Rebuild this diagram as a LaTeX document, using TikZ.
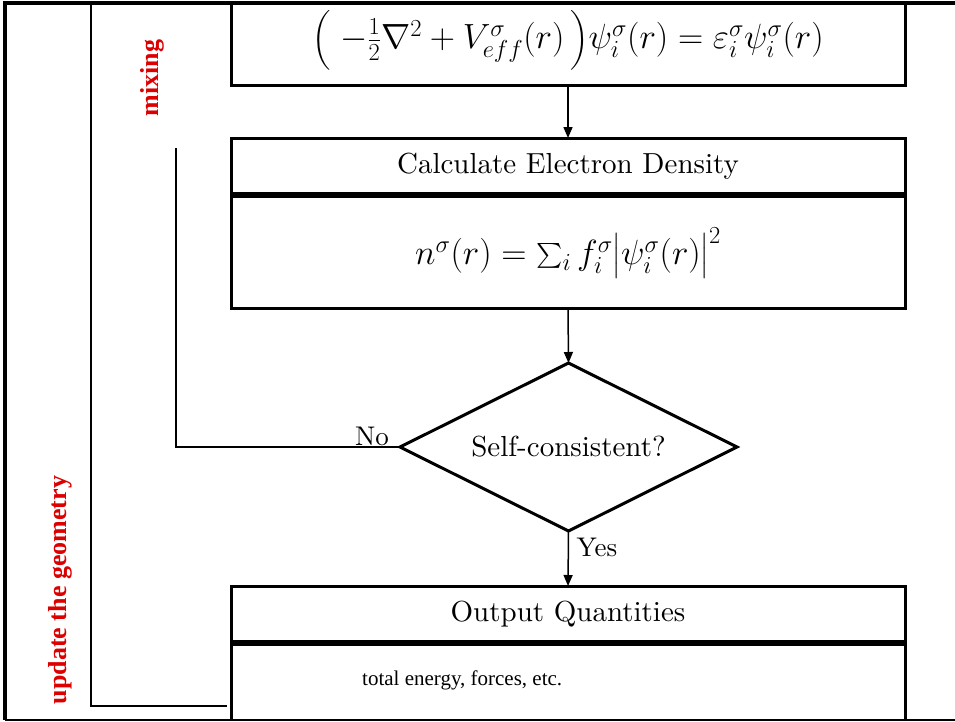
\RequirePackage{fix-cm}
\documentclass[tikz,border=0pt]{standalone}
\usepackage{exscale}
\usepackage{fontspec}
\setmainfont{lmroman10-regular.otf}[BoldFont=lmroman10-bold.otf,ItalicFont=lmroman10-italic.otf]
\newfontfamily\timesf{Liberation Serif}
\usetikzlibrary{shapes.geometric,arrows.meta}
\definecolor{redlab}{RGB}{220,0,0}
\begin{document}
\begin{tikzpicture}[x=1pt,y=-1pt,
  bigfont/.style={font=\fontsize{29}{34}\selectfont},
  mathfont/.style={font=\fontsize{35}{40}\selectfont},
  box/.style={draw,line width=3pt,minimum width=674pt,inner sep=0pt,outer sep=0pt,bigfont},
  plainbox/.style={minimum width=674pt,inner sep=0pt,outer sep=0pt,bigfont},
  divider/.style={line width=6pt},
  conn/.style={line width=1.5pt,-{Triangle[length=11pt,width=9pt]}},
  loopline/.style={line width=1.5pt},
  geoline/.style={line width=2.5pt},
  lab/.style={font=\fontsize{27}{32}\selectfont,inner sep=0pt},
  redtext/.style={rotate=90,text=redlab,inner sep=0pt,font={\timesf\bfseries\fontsize{26}{30}\selectfont}}
]
\useasboundingbox (0,0) rectangle (955,721);

% frame
\coordinate (ftr) at (955,3);
\coordinate (ftl) at (5,3);
\coordinate (fbl) at (5,720);
\coordinate (fbr) at (955,720);
\draw[line width=3.5pt] (ftr) -- (ftl) -- (fbl);
\draw[line width=2pt] (fbl) -- (fbr);

% Kohn-Sham box
\node[box,minimum height=82pt] (ks) at (568,44) {};
\node[mathfont,inner sep=0pt] (kseq) at (568,40)
  {$\Bigl(\;-\frac{1}{2}\nabla^2+V^{\sigma}_{eff}(r)\,\Bigr)\psi^{\sigma}_{i}(r)=\varepsilon^{\sigma}_{i}\psi^{\sigma}_{i}(r)$};

% Calculate electron density
\node[box,minimum height=57pt] (cedh) at (568,166.5) {Calculate Electron Density};
\node[box,minimum height=113pt] (cedb) at (568,251.5) {};
\node[mathfont,inner sep=0pt] (cedeq) at (568,253)
  {$n^{\sigma}(r)=\sum_{i}f^{\sigma}_{i}\bigl|\psi^{\sigma}_{i}(r)\bigr|^{2}$};
\draw[divider] (cedh.south west) -- (cedh.south east);

% decision
\node[diamond,draw,line width=3pt,aspect=2,minimum width=337pt,minimum height=168pt,
      inner sep=0pt,outer sep=0pt,bigfont] (sc) at (568.5,447) {Self-consistent?};

% output
\node[box,minimum height=57pt] (outh) at (568,614.5) {Output Quantities};
\node[plainbox,minimum height=77pt] (outb) at (568,681.5) {};
\draw[line width=3pt] (outb.south west) -- (outb.north west) -- (outb.north east) -- (outb.south east);
\draw[divider] (outh.south west) -- (outh.south east);
\node[anchor=west,inner sep=0pt,font={\timesf\fontsize{21}{25}\selectfont}] (outtxt) at (362,680)
  {total energy, forces, etc.};

% connectors
\draw[conn] (ks.south) -- (cedh.north);
\draw[conn] (cedb.south) -- (sc.north);
\draw[conn] (sc.south) -- (outh.north);

% mixing loop
\coordinate (mixtop) at (176,148);
\draw[loopline] (sc.west) -| (mixtop);
\node[lab] (no) at (372,436) {No};
\node[lab] (yes) at (597,547) {Yes};

% geometry loop
\coordinate (geotop) at (91,3);
\coordinate (geoend) at (227,706);
\draw[geoline] (geotop) |- (geoend);

% red labels
\node[redtext] (mix) at (152,78) {mixing};
\node[redtext] (upd) at (60,590) {update the geometry};
\end{tikzpicture}
\end{document}
